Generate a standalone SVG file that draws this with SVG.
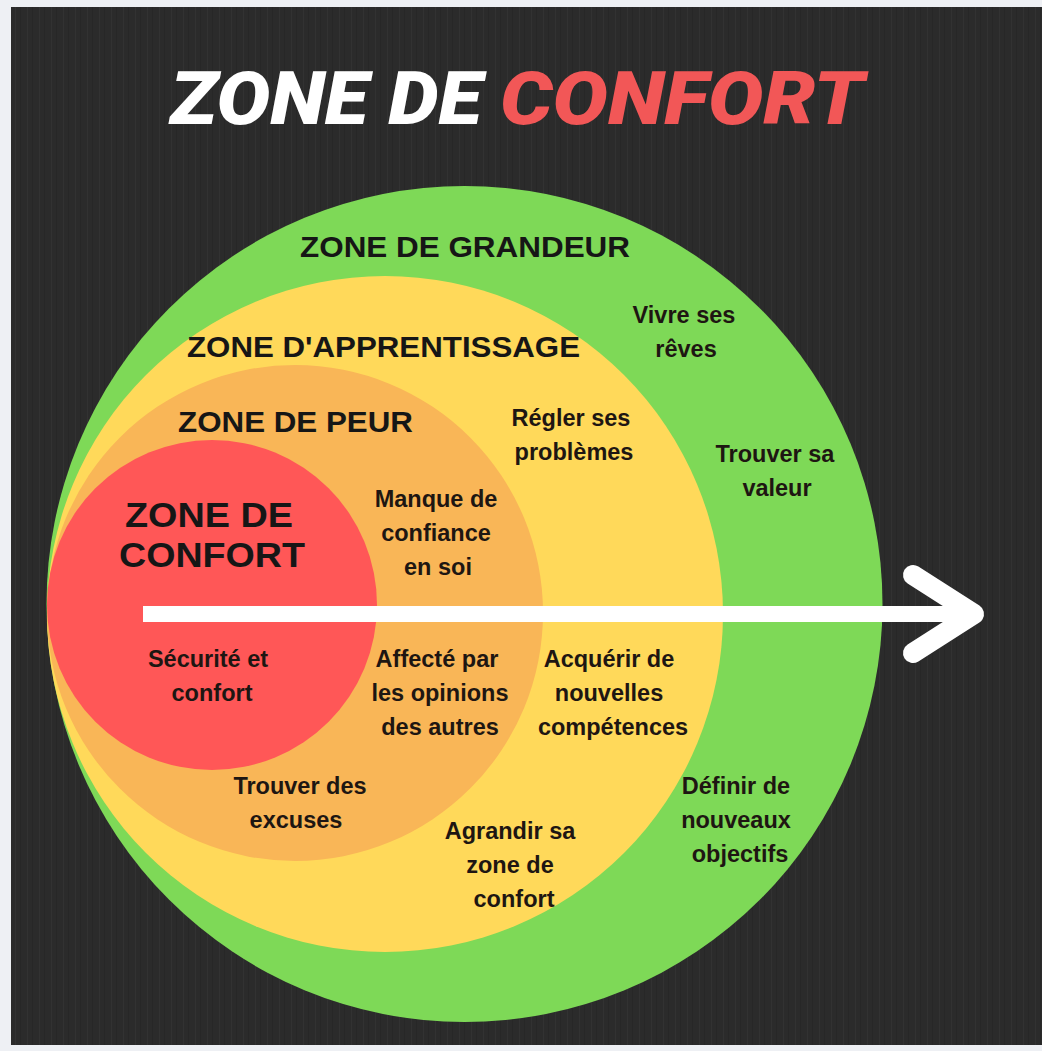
<svg xmlns="http://www.w3.org/2000/svg" width="1042" height="1051" viewBox="0 0 1042 1051">
  <defs>
    <style>
      .zone { font-family: "Liberation Sans", Arial, sans-serif; font-weight: bold; fill: #161616; }
      .lbl { font-family: "Liberation Sans", Arial, sans-serif; font-weight: bold; font-size: 23.5px; fill: #1e1612; text-anchor: middle; }
      .title { font-family: Roboto, "Liberation Sans", sans-serif; font-weight: 900; font-style: italic; font-size: 74px; }
    </style>
    <pattern id="tex" width="12" height="40" patternUnits="userSpaceOnUse">
      <rect width="12" height="40" fill="#2b2b2b"/>
      <rect x="3" width="1" height="40" fill="#323232"/>
      <rect x="8" width="1" height="40" fill="#272727"/>
    </pattern>
  </defs>

  <rect width="1042" height="1051" fill="#eef0f4"/>
  <rect x="11" y="7" width="1031" height="1038" fill="url(#tex)"/>

  <g id="title">
    <text class="title" x="170" y="124" fill="#ffffff" textLength="312" lengthAdjust="spacingAndGlyphs">ZONE DE</text>
    <text class="title" x="500" y="124" fill="#f25757" textLength="364" lengthAdjust="spacingAndGlyphs">CONFORT</text>
  </g>

  <g id="zone-grandeur">
    <circle cx="464.5" cy="604" r="418" fill="#7ed957"/>
    <text class="zone" x="300" y="257" font-size="30" textLength="330" lengthAdjust="spacingAndGlyphs">ZONE DE GRANDEUR</text>
    <text class="lbl" x="684" y="323">Vivre ses</text>
    <text class="lbl" x="686" y="357">rêves</text>
    <text class="lbl" x="775" y="462">Trouver sa</text>
    <text class="lbl" x="777" y="496">valeur</text>
    <text class="lbl" x="736" y="794">Définir de</text>
    <text class="lbl" x="736" y="828">nouveaux</text>
    <text class="lbl" x="740" y="862">objectifs</text>
  </g>

  <g id="zone-apprentissage">
    <circle cx="385" cy="614" r="338" fill="#ffd95a"/>
    <text class="zone" x="187" y="357" font-size="30" textLength="393" lengthAdjust="spacingAndGlyphs">ZONE D'APPRENTISSAGE</text>
    <text class="lbl" x="571" y="426">Régler ses</text>
    <text class="lbl" x="574" y="460">problèmes</text>
    <text class="lbl" x="609" y="667">Acquérir de</text>
    <text class="lbl" x="609" y="701">nouvelles</text>
    <text class="lbl" x="613" y="735">compétences</text>
    <text class="lbl" x="510" y="839">Agrandir sa</text>
    <text class="lbl" x="510" y="873">zone de</text>
    <text class="lbl" x="514" y="907">confort</text>
  </g>

  <g id="zone-peur">
    <circle cx="295" cy="613" r="248" fill="#f9b657"/>
    <text class="zone" x="178" y="432" font-size="30" textLength="235" lengthAdjust="spacingAndGlyphs">ZONE DE PEUR</text>
    <text class="lbl" x="436" y="507">Manque de</text>
    <text class="lbl" x="436" y="541">confiance</text>
    <text class="lbl" x="438" y="575">en soi</text>
    <text class="lbl" x="437" y="667">Affecté par</text>
    <text class="lbl" x="440" y="701">les opinions</text>
    <text class="lbl" x="440" y="735">des autres</text>
    <text class="lbl" x="300" y="794">Trouver des</text>
    <text class="lbl" x="296" y="828">excuses</text>
  </g>

  <g id="zone-confort">
    <circle cx="212" cy="605" r="165" fill="#ff5757"/>
    <text class="zone" x="125" y="527" font-size="35" textLength="168" lengthAdjust="spacingAndGlyphs">ZONE DE</text>
    <text class="zone" x="119" y="567" font-size="35" textLength="186" lengthAdjust="spacingAndGlyphs">CONFORT</text>
    <text class="lbl" x="208" y="667">Sécurité et</text>
    <text class="lbl" x="212" y="701">confort</text>
  </g>

  <g id="connectors">
    <line x1="143" y1="614" x2="968" y2="614" stroke="#ffffff" stroke-width="16"/>
    <polyline points="913,575 974,614 913,653" fill="none" stroke="#ffffff" stroke-width="20" stroke-linecap="round" stroke-linejoin="round"/>
  </g>
</svg>
